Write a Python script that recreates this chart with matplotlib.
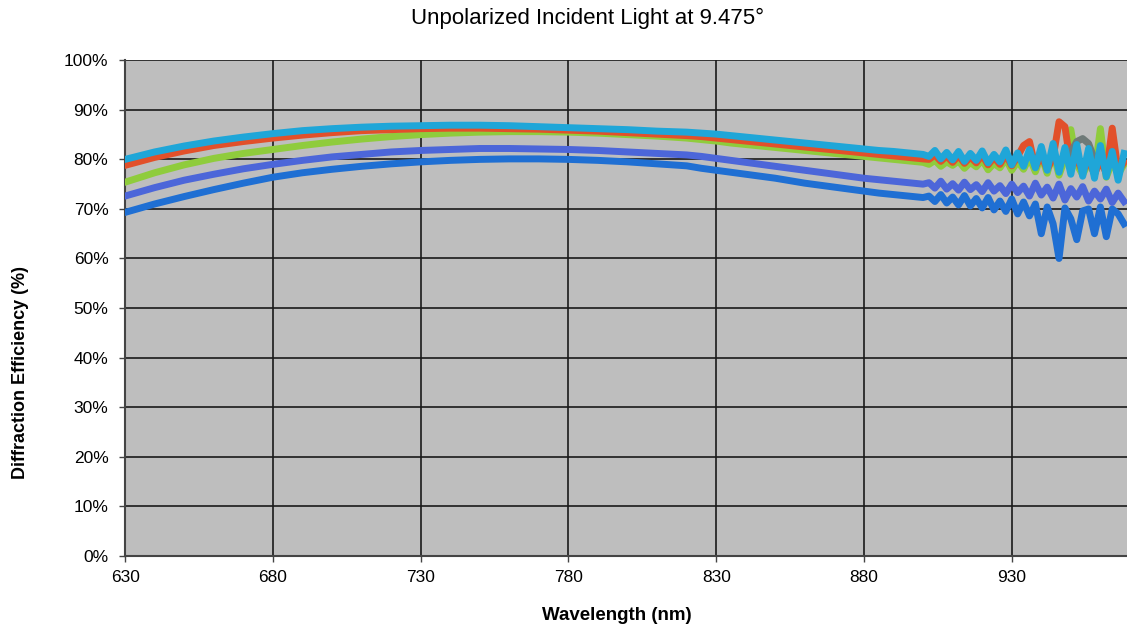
import matplotlib
matplotlib.use("Agg")
import matplotlib.pyplot as plt
from matplotlib.ticker import FuncFormatter

plt.rcParams['font.family'] = ['Liberation Sans', 'DejaVu Sans']

# wavelength grid (nm): coarse in the smooth part, fine in the noisy tail
wl = ([630, 640, 650, 660, 670, 680, 690, 700, 710, 720,
       730, 740, 750, 760, 770, 780, 790, 800, 810, 820]
      + [825, 830, 835, 840, 845, 850, 855, 860, 865, 870, 875, 880, 885, 890, 895, 900]
      + [902, 904, 906, 908, 910, 912, 914, 916, 918, 920, 922, 924, 926, 928, 930, 932, 934,
         936, 938, 940, 942, 944, 946, 948, 950, 952, 954, 956, 958, 960, 962, 964, 966, 968])

cyan = ([80.0, 81.5, 82.7, 83.7, 84.5, 85.2, 85.8, 86.2, 86.5, 86.7,
         86.8, 86.9, 86.9, 86.8, 86.6, 86.4, 86.2, 86.0, 85.7, 85.5]
        + [85.3, 85.1, 84.8, 84.5, 84.2, 83.9, 83.6, 83.3, 83.0, 82.7, 82.4, 82.1, 81.8, 81.6, 81.3, 81.0]
        + [80.6, 81.8, 80.1, 81.4, 79.9, 81.6, 79.6, 81.2, 79.8, 81.7, 79.3, 81.0, 79.5, 81.9, 78.9, 81.3, 78.6,
           82.0, 78.3, 82.6, 77.8, 83.2, 77.4, 82.4, 77.0, 83.0, 76.6, 82.2, 76.2, 82.8, 76.5, 81.6, 75.8, 81.2])

red = ([78.8, 80.4, 81.7, 82.8, 83.6, 84.3, 84.9, 85.4, 85.8, 86.0,
        86.2, 86.3, 86.3, 86.2, 86.1, 85.9, 85.7, 85.4, 85.1, 84.8]
       + [84.6, 84.3, 84.0, 83.7, 83.4, 83.1, 82.8, 82.5, 82.2, 81.9, 81.6, 81.3, 81.0, 80.7, 80.4, 80.1]
       + [80.0, 80.9, 79.6, 80.7, 79.4, 80.8, 79.2, 80.5, 79.3, 80.9, 78.9, 80.4, 79.0, 81.0, 78.7, 80.6, 82.8,
          83.6, 78.4, 80.8, 78.0, 80.3, 87.6, 86.6, 78.6, 80.2, 77.4, 80.0, 77.0, 79.8, 77.2, 86.3, 77.6, 79.4])

green = ([75.4, 77.3, 78.9, 80.2, 81.2, 82.0, 82.8, 83.5, 84.1, 84.6,
          85.0, 85.3, 85.5, 85.6, 85.6, 85.5, 85.3, 85.0, 84.7, 84.3]
         + [84.0, 83.7, 83.3, 83.0, 82.7, 82.4, 82.1, 81.8, 81.5, 81.2, 80.9, 80.6, 80.3, 80.0, 79.7, 79.4]
         + [79.0, 79.8, 78.6, 79.5, 78.8, 79.7, 78.2, 79.4, 78.5, 79.9, 77.9, 79.2, 78.3, 80.1, 77.8, 79.6, 78.0,
            80.4, 77.5, 80.8, 77.2, 81.5, 76.8, 80.2, 86.0, 79.0, 76.9, 79.4, 77.2, 86.2, 76.4, 79.5, 77.0, 79.0])

purple = ([72.6, 74.3, 75.8, 77.0, 78.1, 79.0, 79.8, 80.5, 81.0, 81.5,
           81.8, 82.0, 82.2, 82.2, 82.1, 82.0, 81.8, 81.5, 81.2, 80.9]
          + [80.6, 80.2, 79.8, 79.4, 79.0, 78.6, 78.2, 77.8, 77.4, 77.0, 76.6, 76.2, 75.9, 75.6, 75.3, 75.0]
          + [75.3, 74.2, 75.6, 74.0, 75.1, 73.8, 75.4, 73.9, 74.9, 73.5, 75.3, 73.6, 74.7, 73.1, 75.0, 73.3, 74.6,
             72.6, 75.2, 72.8, 74.4, 72.2, 75.0, 71.8, 74.1, 72.4, 74.5, 71.6, 73.6, 72.0, 74.0, 71.3, 73.2, 71.5])

blue = ([69.3, 71.0, 72.5, 73.9, 75.2, 76.4, 77.3, 78.0, 78.6, 79.1,
         79.5, 79.8, 80.0, 80.1, 80.1, 80.0, 79.8, 79.5, 79.1, 78.7]
        + [78.2, 77.8, 77.4, 77.0, 76.6, 76.2, 75.7, 75.2, 74.8, 74.4, 74.0, 73.6, 73.2, 72.9, 72.6, 72.3]
        + [72.6, 71.5, 72.9, 71.2, 72.4, 70.8, 72.7, 70.6, 72.1, 70.2, 72.3, 69.8, 71.6, 69.5, 72.0, 69.0, 71.4,
           68.6, 71.0, 65.0, 70.4, 67.0, 60.0, 70.2, 68.0, 63.8, 69.6, 70.0, 65.0, 70.4, 64.4, 70.0, 69.0, 67.0])

# short grey trace that only shows in the noisy tail
gray_wl = [946, 948, 950, 952, 954, 956, 958]
gray = [79.0, 80.5, 81.5, 83.6, 84.2, 83.2, 80.0]

x_ticks = [630, 680, 730, 780, 830, 880, 930]
y_ticks = [0, 10, 20, 30, 40, 50, 60, 70, 80, 90, 100]

fig = plt.figure(figsize=(11.27, 6.28), dpi=100)
ax = fig.add_axes([0.111, 0.115, 0.889, 0.789])
ax.set_facecolor('#bebebe')

lw = 5
ax.plot(wl, blue, color='#1f6fd3', linewidth=lw, zorder=3)
ax.plot(wl, purple, color='#4c66d9', linewidth=lw, zorder=3)
ax.plot(wl, green, color='#8fcc3c', linewidth=lw, zorder=3)
ax.plot(wl, red, color='#e2502a', linewidth=lw, zorder=3)
ax.plot(gray_wl, gray, color='#6f7a78', linewidth=lw, zorder=3)
ax.plot(wl, cyan, color='#1fa6d8', linewidth=lw, zorder=3)

ax.set_xlim(630, 969)
ax.set_ylim(0, 100)
ax.set_xticks(x_ticks)
ax.set_yticks(y_ticks)
ax.yaxis.set_major_formatter(FuncFormatter(lambda v, p: f'{int(v)}%'))
ax.grid(True, color='#1a1a1a', linewidth=1.2, zorder=1)
ax.set_axisbelow(True)

for side in ['top', 'right']:
    ax.spines[side].set_visible(False)
ax.spines['left'].set_color('#444444')
ax.spines['bottom'].set_color('#444444')
ax.spines['left'].set_linewidth(1.5)
ax.spines['bottom'].set_linewidth(1.5)
ax.tick_params(axis='both', direction='out', length=4, width=1, color='#444444',
               labelsize=12.5)
ax.tick_params(axis='y', pad=8)
ax.tick_params(axis='x', pad=6)

ax.set_xlabel('Wavelength (nm)', fontsize=13.5, fontweight='bold')
ax.set_ylabel('Diffraction Efficiency (%)', fontsize=13, fontweight='bold')
ax.xaxis.set_label_coords(0.4905, -0.103)
ax.yaxis.set_label_coords(-0.096, 0.37)
fig.text(0.521, 0.97, 'Unpolarized Incident Light at 9.475°', fontsize=16,
         ha='center', va='center')

fig.savefig('out.png', dpi=100)
